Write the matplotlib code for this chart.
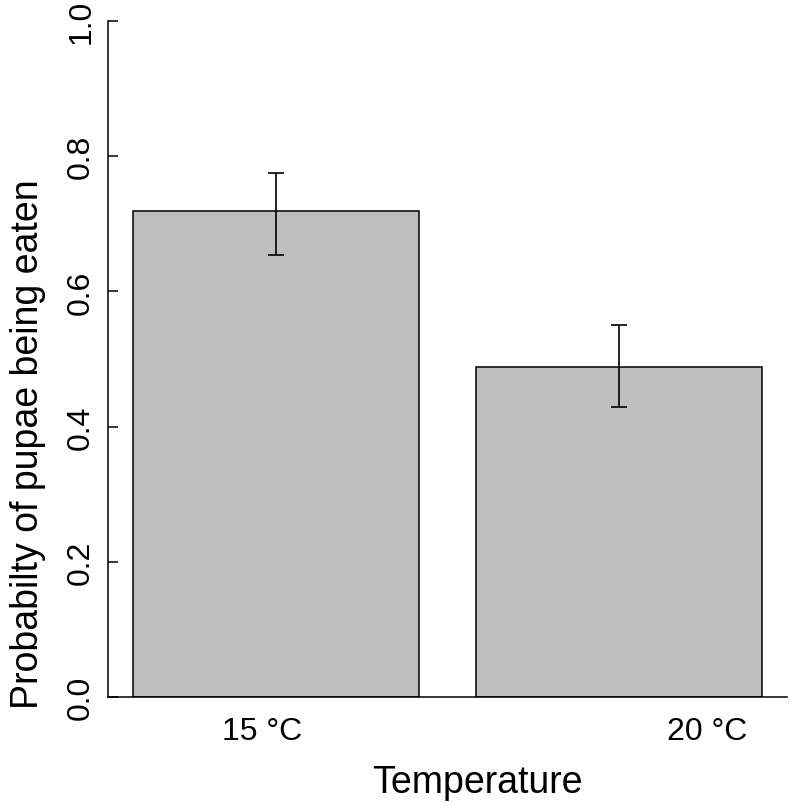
import numpy as np
import matplotlib.pyplot as plt

# bar heights and error limits
groups = ['15 °C', '20 °C']
prob = [0.719, 0.488]
upper = [0.775, 0.550]
lower = [0.654, 0.429]
label_pos = [0.652, 2.207]   # where the group labels sit along x
yticks = [0.0, 0.2, 0.4, 0.6, 0.8, 1.0]

plt.rcParams['font.family'] = ['Liberation Sans', 'DejaVu Sans']


def main():
    fig = plt.figure(figsize=(7.9, 8.04), dpi=100)
    ax = fig.add_axes([108/790, 106/804, 679/790, 676/804])

    # R style barplot: width 1, space 0.2
    centers = np.arange(len(prob)) * 1.2 + 0.7
    prob_a = np.array(prob)
    yerr = [prob_a - np.array(lower), np.array(upper) - prob_a]
    ax.bar(centers, prob, width=1.0, color='#bebebe', edgecolor='black', linewidth=1.1)
    ax.errorbar(centers, prob, yerr=yerr, fmt='none', ecolor='black',
                elinewidth=1.2, capsize=5.8, capthick=1.2)

    ax.set_xlim(0.112, 2.488)
    ax.set_ylim(0, 1)
    for s in ['top', 'right']:
        ax.spines[s].set_visible(False)
    ax.spines['left'].set_linewidth(1.1)
    ax.spines['bottom'].set_linewidth(1.1)

    ax.set_yticks(yticks)
    ax.set_yticklabels(['%.1f' % v for v in yticks], rotation=90, va='center', fontsize=23)
    ax.tick_params(axis='y', direction='in', length=7.2, width=1.1, pad=8.5)
    ax.set_xticks(label_pos)
    ax.set_xticklabels(groups, fontsize=23)
    ax.tick_params(axis='x', length=0, pad=14)

    fig.text(477/790, 11/804, 'Temperature', ha='center', va='baseline', fontsize=27)
    fig.text(28/790, 360/804, 'Probabilty of pupae being eaten', rotation=90,
             ha='center', va='center', fontsize=27)

    fig.savefig('out.png', dpi=100)


if __name__ == "__main__":
    main()
